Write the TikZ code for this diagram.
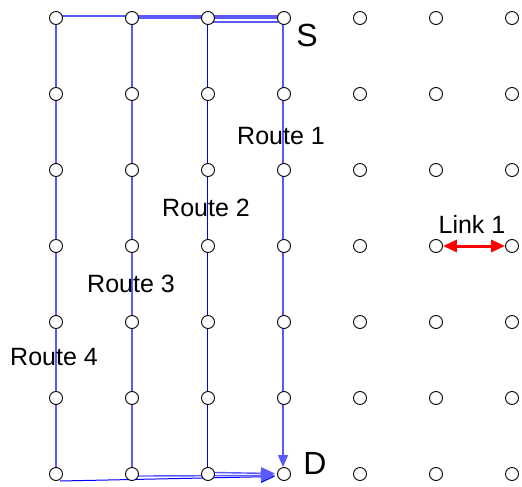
\documentclass[tikz,border=0pt]{standalone}
\usepackage{fontspec}
\setmainfont{Liberation Sans}
\usetikzlibrary{calc,arrows.meta}
\begin{document}
\begin{tikzpicture}[x=1pt,y=-1pt,
  gridpt/.style={circle,draw=black,line width=0.9pt,minimum size=13pt,inner sep=0pt,fill=white},
  route/.style={draw=blue,line width=1pt},
  routelight/.style={draw={rgb,255:red,90;green,90;blue,255},line width=1.4pt},
  tipb/.style={-{Triangle[length=14pt,width=12pt]}},
  tipv/.style={-{Triangle[length=12pt,width=10pt]}},
  lbl/.style={font=\fontsize{25}{28}\selectfont,inner sep=0pt},
  big/.style={font=\fontsize{32}{36}\selectfont,inner sep=0pt}]
\useasboundingbox (0,0) rectangle (522,487);
% Route 4
\draw[routelight] (278,16) -- (56,16) -- (56,468);
\draw[route,tipb] (60,481) -- (275,476.5);
% Route 3
\draw[routelight] (278,18) -- (132,18) -- (132,468);
\draw[routelight,tipb] (138,476) -- (275,475.5);
% Route 2
\draw[routelight] (278,22) -- (207,22);
\draw[route] (207,22) -- (207,468);
\draw[routelight,tipb] (214,472.5) -- (275,473.5);
% Route 1
\draw[routelight,tipv] (283,24) -- (283,467);
% grid
\foreach \i in {0,...,6}{
  \foreach \j in {0,...,6}{
    \node[gridpt] (c-\i-\j) at (56+76*\i,18+76*\j) {};
  }
}
% link 1
\draw[red,line width=3pt,{Triangle[length=14pt,width=12pt]}-{Triangle[length=14pt,width=12pt]}] (c-5-3) -- (c-6-3);
% labels
\node[big] (S) at (307,35) {S};
\node[big] (D) at (315,463) {D};
\node[lbl] (r1) at (281,136) {Route 1};
\node[lbl] (r2) at (206,208) {Route 2};
\node[lbl] (r3) at (131,284) {Route 3};
\node[lbl] (r4) at (54,357) {Route 4};
\node[lbl] (l1) at (472,224) {Link 1};
\end{tikzpicture}
\end{document}
